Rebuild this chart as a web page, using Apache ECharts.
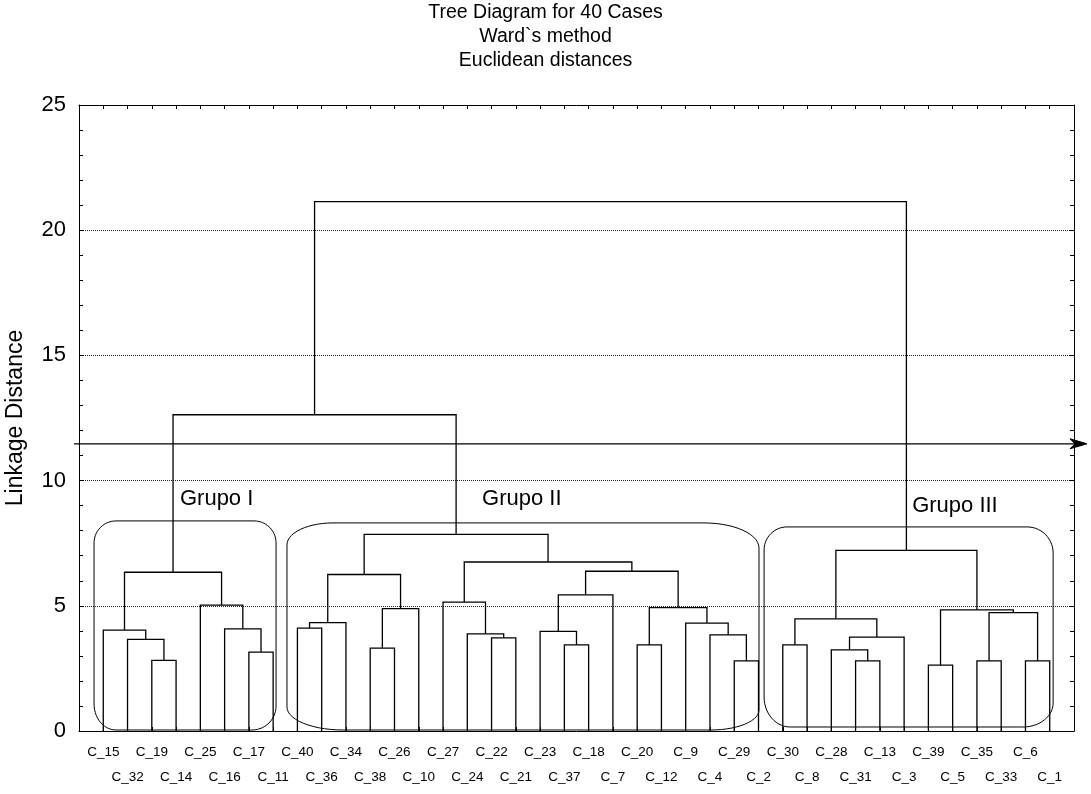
<!DOCTYPE html>
<html>
<head>
<meta charset="utf-8">
<title>Tree Diagram for 40 Cases</title>
<script src="https://cdn.jsdelivr.net/npm/echarts@6/dist/echarts.min.js"></script>
<style>
  html, body { margin: 0; padding: 0; background: #fff; }
  #main { width: 1091px; height: 794px; }
</style>
</head>
<body>
<div id="main"></div>
<script>
// leaf order along the x axis (leaf i sits at x = i + 1)
const leaves = [
  "C_15", "C_32", "C_19", "C_14", "C_25", "C_16", "C_17", "C_11",
  "C_40", "C_36", "C_34", "C_38", "C_26", "C_10", "C_27", "C_24",
  "C_22", "C_21", "C_23", "C_37", "C_18", "C_7", "C_20", "C_12",
  "C_9", "C_4", "C_29", "C_2", "C_30", "C_8", "C_28", "C_31",
  "C_13", "C_3", "C_39", "C_5", "C_35", "C_33", "C_6", "C_1"
];

// merges: [id, left child, right child, linkage distance]
const mergesGroupI = [
  ["m1", "C_19", "C_14", 2.82],
  ["m2", "C_32", "m1", 3.66],
  ["m3", "C_15", "m2", 4.03],
  ["m4", "C_17", "C_11", 3.15],
  ["m5", "C_16", "m4", 4.08],
  ["m6", "C_25", "m5", 5.03],
  ["m7", "m3", "m6", 6.34]
];
const mergesGroupII = [
  ["m8", "C_40", "C_36", 4.11],
  ["m9", "m8", "C_34", 4.33],
  ["m10", "C_38", "C_26", 3.31],
  ["m11", "m10", "C_10", 4.89],
  ["m12", "m9", "m11", 6.25],
  ["m13", "C_22", "C_21", 3.72],
  ["m14", "C_24", "m13", 3.88],
  ["m15", "C_27", "m14", 5.15],
  ["m16", "C_37", "C_18", 3.44],
  ["m17", "C_23", "m16", 3.98],
  ["m18", "m17", "C_7", 5.44],
  ["m19", "C_20", "C_12", 3.44],
  ["m20", "C_29", "C_2", 2.80],
  ["m21", "C_4", "m20", 3.84],
  ["m22", "C_9", "m21", 4.31],
  ["m23", "m19", "m22", 4.93],
  ["m24", "m18", "m23", 6.38],
  ["m25", "m15", "m24", 6.75],
  ["m26", "m12", "m25", 7.85]
];
const mergesGroupIII = [
  ["m27", "C_30", "C_8", 3.44],
  ["m28", "C_31", "C_13", 2.80],
  ["m29", "C_28", "m28", 3.24],
  ["m30", "m29", "C_3", 3.75],
  ["m31", "m27", "m30", 4.48],
  ["m32", "C_39", "C_5", 2.63],
  ["m33", "C_35", "C_33", 2.80],
  ["m34", "C_6", "C_1", 2.80],
  ["m35", "m33", "m34", 4.73],
  ["m36", "m32", "m35", 4.84],
  ["m37", "m31", "m36", 7.21]
];
const mergesTop = [
  ["m38", "m7", "m26", 12.63],
  ["m39", "m38", "m37", 21.14]
];

// cut line drawn as an arrow
const cutLevel = 11.47;

// group annotations (extent in data units, label anchor in data units)
const groupNames = ["Grupo I", "Grupo II", "Grupo III"];
const groupBoxes = [
  { x1: 0.62, x2: 8.12, top: 8.39, bottom: 0.04, lx: 4.16, ly: 9.27,
    r: [[22, 22], [22, 22], [24, 24], [22, 26]] },
  { x1: 8.57, x2: 28.02, top: 8.31, bottom: 0.04, lx: 16.61, ly: 9.27,
    r: [[46, 22], [55, 25], [48, 20], [56, 23]] },
  { x1: 28.23, x2: 40.14, top: 8.15, bottom: 0.16, lx: 34.33, ly: 8.99,
    r: [[23, 23], [26, 26], [30, 24], [26, 30]] }
];

const FONT = "'Liberation Sans', Arial, Helvetica, sans-serif";

// build U-shaped links from the merge list
const nodes = {};
leaves.forEach((name, i) => { nodes[name] = { x: i + 1, h: 0 }; });
const links = [];
[].concat(mergesGroupI, mergesGroupII, mergesGroupIII, mergesTop).forEach(m => {
  const a = nodes[m[1]], b = nodes[m[2]], h = m[3];
  links.push([a.x, a.h, b.x, b.h, h]);
  nodes[m[0]] = { x: (a.x + b.x) / 2, h: h };
});

function roundedPoly(x1, y1, x2, y2, r) {
  const pts = [];
  const n = 14;
  const corner = (cx, cy, rx, ry, a0) => {
    for (let i = 0; i <= n; i++) {
      const a = a0 + (Math.PI / 2) * i / n;
      pts.push([cx + rx * Math.cos(a), cy + ry * Math.sin(a)]);
    }
  };
  corner(x1 + r[0][0], y1 + r[0][1], r[0][0], r[0][1], Math.PI);
  corner(x2 - r[1][0], y1 + r[1][1], r[1][0], r[1][1], 1.5 * Math.PI);
  corner(x2 - r[2][0], y2 - r[2][1], r[2][0], r[2][1], 0);
  corner(x1 + r[3][0], y2 - r[3][1], r[3][0], r[3][1], 0.5 * Math.PI);
  return pts;
}

const myChart = echarts.init(document.getElementById("main"));

const tickStyle = { color: "#000", width: 1 };
const option = {
  animation: false,
  backgroundColor: "#fff",
  textStyle: { fontFamily: FONT },
  title: {
    text: "Tree Diagram for 40 Cases\nWard`s method\nEuclidean distances",
    left: "center",
    top: 1,
    padding: 0,
    textStyle: { fontSize: 19.5, fontWeight: "normal", lineHeight: 24, color: "#000", fontFamily: FONT }
  },
  grid: { left: 79, right: 17, top: 105, bottom: 63, outerBoundsMode: "none", containLabel: false },
  xAxis: [
    {
      type: "value", min: 0, max: 41, interval: 1, position: "bottom",
      axisLine: { show: true, onZero: false, lineStyle: tickStyle },
      axisTick: { inside: true, length: 4, lineStyle: tickStyle },
      splitLine: { show: false },
      axisLabel: {
        margin: 8, fontSize: 13.5, color: "#000", fontFamily: FONT, lineHeight: 25.6,
        formatter: v => {
          const i = Math.round(v) - 1;
          if (i < 0 || i >= leaves.length) return "";
          return i % 2 === 0 ? leaves[i] : "\n" + leaves[i];
        }
      }
    },
    {
      type: "value", min: 0, max: 41, interval: 1, position: "top",
      axisLine: { show: true, onZero: false, lineStyle: tickStyle },
      axisTick: { inside: true, length: 4, lineStyle: tickStyle },
      splitLine: { show: false },
      axisLabel: { show: false }
    }
  ],
  yAxis: [
    {
      type: "value", min: 0, max: 25, interval: 5, position: "left",
      name: "Linkage Distance", nameLocation: "middle", nameRotate: 90, nameGap: 52,
      nameTextStyle: { fontSize: 23, color: "#000", fontFamily: FONT },
      axisLine: { show: true, onZero: false, lineStyle: tickStyle },
      axisTick: { inside: true, length: 5, lineStyle: tickStyle },
      minorTick: { show: true, splitNumber: 5, length: 4, lineStyle: tickStyle },
      splitLine: { show: true, lineStyle: { color: "#222", width: 1, type: [1, 1] } },
      axisLabel: { margin: 13, fontSize: 22, color: "#000", fontFamily: FONT }
    },
    {
      type: "value", min: 0, max: 25, interval: 5, position: "right",
      axisLine: { show: true, onZero: false, lineStyle: tickStyle },
      axisTick: { inside: true, length: 5, lineStyle: tickStyle },
      minorTick: { show: true, splitNumber: 5, length: 4, lineStyle: tickStyle },
      splitLine: { show: false },
      axisLabel: { show: false }
    }
  ],
  series: [
    {
      name: "tree",
      type: "custom",
      clip: false,
      data: links,
      z: 5,
      renderItem: (params, api) => {
        const a = api.coord([api.value(0), api.value(1)]);
        const t1 = api.coord([api.value(0), api.value(4)]);
        const t2 = api.coord([api.value(2), api.value(4)]);
        const b = api.coord([api.value(2), api.value(3)]);
        return {
          type: "polyline",
          shape: { points: [a, t1, t2, b] },
          style: { stroke: "#000", lineWidth: 1.3, fill: null }
        };
      }
    },
    {
      name: "groups",
      type: "custom",
      clip: false,
      data: groupBoxes.map(g => [g.x1, g.top, g.x2, g.bottom]),
      z: 4,
      renderItem: (params, api) => {
        const g = groupBoxes[params.dataIndex];
        const p1 = api.coord([api.value(0), api.value(1)]);
        const p2 = api.coord([api.value(2), api.value(3)]);
        const lp = api.coord([g.lx, g.ly]);
        return {
          type: "group",
          children: [
            {
              type: "polygon",
              shape: { points: roundedPoly(p1[0], p1[1], p2[0], p2[1], g.r) },
              style: { stroke: "#000", lineWidth: 1, fill: null }
            },
            {
              type: "text",
              x: lp[0], y: lp[1],
              style: {
                text: groupNames[params.dataIndex], fontSize: 22, fontFamily: FONT,
                fill: "#000", align: "left", verticalAlign: "middle"
              }
            }
          ]
        };
      }
    },
    {
      name: "cut",
      type: "custom",
      clip: false,
      data: [[0, cutLevel]],
      z: 6,
      renderItem: (params, api) => {
        const p = api.coord([api.value(0), api.value(1)]);
        const x0 = p[0] - 5;
        const x1 = api.getWidth() - 4;
        const y = p[1];
        return {
          type: "group",
          children: [
            { type: "line", shape: { x1: x0, y1: y, x2: x1 - 10, y2: y },
              style: { stroke: "#000", lineWidth: 1.3 } },
            { type: "polygon", shape: { points: [[x1, y], [x1 - 17, y - 5], [x1 - 12, y], [x1 - 17, y + 5]] },
              style: { fill: "#000", stroke: "#000", lineWidth: 1 } }
          ]
        };
      }
    }
  ]
};

myChart.setOption(option);
</script>
</body>
</html>
